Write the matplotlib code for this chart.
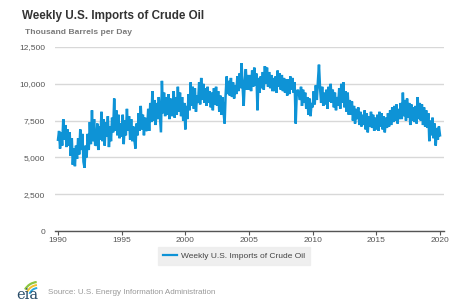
import numpy as np
import pandas as pd
import matplotlib
matplotlib.use("Agg")
import matplotlib.pyplot as plt
from matplotlib.patches import Arc
from matplotlib.ticker import FuncFormatter

plt.rcParams['font.family'] = ['Liberation Sans', 'DejaVu Sans']

title = "Weekly U.S. Imports of Crude Oil"
unit_label = "Thousand Barrels per Day"
series_name = "Weekly U.S. Imports of Crude Oil"
source = "Source: U.S. Energy Information Administration"

years = list(range(1990, 2020))
# approximate readings (thousand barrels per day), 12 readings per year, alternating highs/lows of the weekly band
imports = {
    1990: [6200, 6800, 5600, 6700, 5800, 7600, 6200, 7200, 5700, 6900, 5800, 6700],
    1991: [5100, 6300, 4500, 5600, 4400, 5800, 4900, 6300, 5200, 6900, 5500, 6600],
    1992: [4700, 4300, 5800, 5000, 6600, 5500, 7400, 5900, 8200, 6100, 7600, 5800],
    1993: [5900, 7300, 5500, 7100, 6200, 8100, 6100, 7600, 5800, 7400, 6400, 7800],
    1994: [5700, 7100, 6100, 7700, 6700, 9000, 6800, 8200, 6500, 7900, 6300, 7300],
    1995: [6400, 7900, 5900, 7500, 6500, 8300, 6800, 7800, 6200, 7600, 6100, 7100],
    1996: [6200, 5600, 7300, 6500, 8000, 6800, 8500, 6900, 7900, 6500, 7700, 6800],
    1997: [6900, 8300, 6800, 8700, 7400, 9500, 7500, 8900, 7200, 8700, 7600, 9100],
    1998: [7900, 6700, 10200, 8000, 9400, 7800, 9100, 7900, 9300, 7600, 9000, 7800],
    1999: [8100, 9500, 7700, 9100, 7900, 9800, 8100, 9400, 7800, 9100, 7500, 8700],
    2000: [6900, 8500, 7600, 9300, 8200, 10100, 8500, 9800, 8300, 9700, 8100, 9200],
    2001: [8700, 10100, 8600, 10400, 8900, 10000, 8700, 9700, 8500, 9800, 8700, 9500],
    2002: [8400, 9400, 8200, 9700, 8600, 9800, 8500, 9500, 8100, 9200, 7900, 9100],
    2003: [8100, 7300, 9200, 10500, 9300, 10200, 9200, 10400, 9100, 10100, 9000, 9900],
    2004: [9300, 10500, 9500, 10700, 9700, 11400, 9800, 8500, 10200, 11000, 9600, 10600],
    2005: [9600, 10600, 9500, 10900, 9800, 11100, 9900, 10700, 8200, 10400, 9400, 10500],
    2006: [9700, 10800, 9600, 11200, 10000, 11100, 9800, 10800, 9700, 10600, 9500, 10400],
    2007: [9500, 10500, 9400, 10900, 9800, 10700, 9600, 10600, 9500, 10400, 9400, 10300],
    2008: [9200, 10300, 9300, 10500, 9600, 10400, 9400, 10100, 7300, 9400, 9600, 9300],
    2009: [8900, 9800, 8500, 9600, 8700, 9400, 8300, 9100, 7900, 9000, 7800, 8700],
    2010: [8400, 9500, 8600, 9900, 8900, 10200, 11300, 9700, 8700, 9800, 8500, 9400],
    2011: [8600, 9600, 8300, 9800, 8800, 10000, 8700, 9600, 8400, 9400, 8200, 9100],
    2012: [8500, 9700, 8300, 10000, 8700, 10100, 8400, 9500, 8100, 9400, 7900, 8900],
    2013: [7900, 8800, 7500, 8500, 7300, 8300, 7600, 8400, 7200, 8100, 7100, 7900],
    2014: [7200, 8200, 6900, 8000, 6700, 7800, 7100, 8100, 7000, 7900, 6800, 7700],
    2015: [6900, 7900, 6800, 8100, 7100, 8000, 6900, 7800, 6700, 7700, 7000, 8000],
    2016: [7100, 8200, 7200, 8400, 7400, 8500, 7500, 8600, 7300, 8300, 7600, 8700],
    2017: [7600, 9400, 7800, 8900, 7500, 9000, 7700, 8700, 7200, 8600, 7500, 8400],
    2018: [7400, 8500, 7300, 9100, 7600, 8700, 7500, 8600, 7200, 8400, 7100, 8200],
    2019: [7000, 8000, 6100, 7500, 6500, 7700, 6300, 7300, 5800, 7000, 6200, 7100],
}
final_value = 6500  # January 2020

x_ticks = [1990, 1995, 2000, 2005, 2010, 2015, 2020]
y_ticks = [0, 2500, 5000, 7500, 10000, 12500]

values = []
for y in years:
    values.extend(imports[y])
values.append(final_value)
dates = pd.date_range("1990-01-01", periods=len(values), freq="MS")
xpos = dates.year + (dates.dayofyear - 1) / 365.25

fig = plt.figure(figsize=(4.6, 3.08), dpi=100)
W, H = 460, 308
ax = fig.add_axes([55 / W, 1 - 231 / H, (444 - 55) / W, (231 - 47) / H])

blue = "#0e93d6"
ax.plot(xpos, values, color=blue, lw=1.8, solid_joinstyle="miter", label=series_name)

ax.set_xlim(1990 - 3 / 12.73, 2020 + 4 / 12.73)
ax.set_ylim(0, 12500)
ax.set_yticks(y_ticks)
ax.set_xticks(x_ticks)
ax.yaxis.set_major_formatter(FuncFormatter(lambda v, p: f"{int(v):,}"))
ax.grid(axis="y", color="#d8d8d8", lw=1)
ax.set_axisbelow(True)
for s in ["top", "right", "left"]:
    ax.spines[s].set_visible(False)
ax.spines["bottom"].set_color("#555555")
ax.spines["bottom"].set_linewidth(1)
ax.tick_params(axis="y", length=0, labelsize=6, labelcolor="#555555", pad=7)
ax.tick_params(axis="x", length=3, width=0.8, color="#555555", labelsize=6,
               labelcolor="#555555", pad=1.5)

fig.text(22 / W, 1 - 16 / H, title, fontsize=8.4, fontweight="bold", color="#333333",
         ha="left", va="center")
fig.text(25 / W, 1 - 33 / H, unit_label, fontsize=6.1, fontweight="bold", color="#7a7a7a",
         ha="left", va="center")

leg = ax.legend(loc="center", bbox_to_anchor=((234 - 55) / (444 - 55), (231 - 256) / (231 - 47)),
                frameon=True, fontsize=6, handlelength=1.6, handletextpad=0.5,
                borderpad=0.6, fancybox=False)
leg.get_frame().set_facecolor("#ececec")
leg.get_frame().set_edgecolor("#ececec")
for t in leg.get_texts():
    t.set_color("#444444")
for l in leg.get_lines():
    l.set_linewidth(1.6)

# eia logo
fig.text(16 / W, 1 - 295 / H, "eia", fontsize=10.5, family="DejaVu Serif", color="#2a4d69",
         ha="left", va="center")
lax = fig.add_axes([14 / W, 1 - 300 / H, 30 / W, 22 / H])
lax.set_xlim(0, 30)
lax.set_ylim(0, 22)
lax.axis("off")
lax.add_patch(Arc((24, 3), 30, 30, theta1=95, theta2=150, color="#8cc63f", lw=1.6))
lax.add_patch(Arc((24, 3), 24, 24, theta1=95, theta2=155, color="#f2c12e", lw=1.4))
lax.add_patch(Arc((24, 3), 18, 18, theta1=95, theta2=160, color="#29a9e0", lw=1.4))

fig.text(48 / W, 1 - 293 / H, source, fontsize=5.8, color="#999999", ha="left", va="center")

fig.savefig("out.png", dpi=100)
